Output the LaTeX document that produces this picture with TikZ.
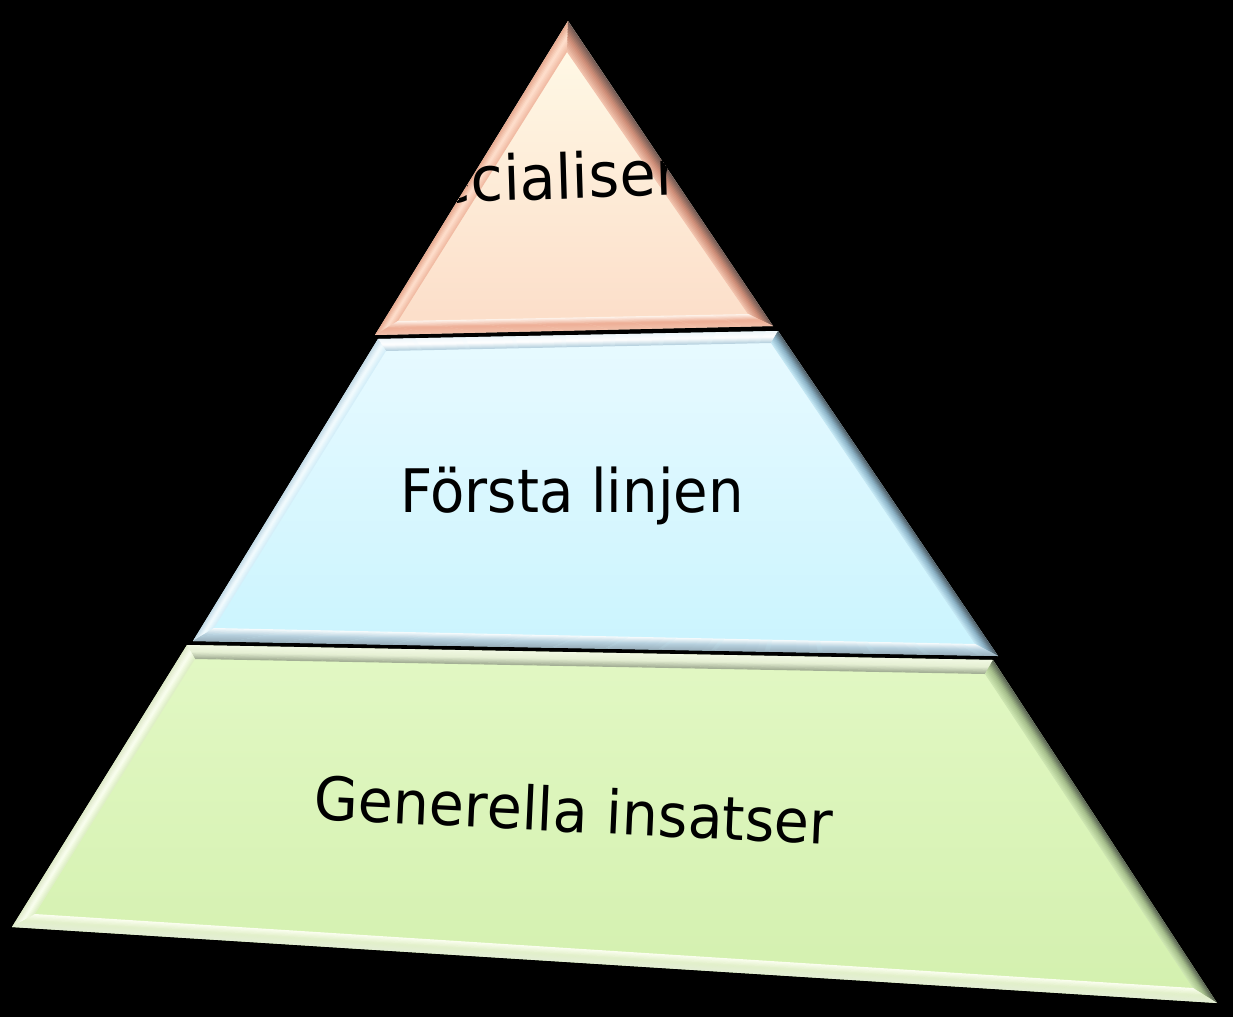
\documentclass[tikz,border=0pt]{standalone}
\usepackage{fontspec}
\setmainfont{DejaVu Sans}
\usetikzlibrary{calc}
\definecolor{peachTop}{HTML}{FFFBE8}
\definecolor{peachBot}{HTML}{FCDDC8}
\definecolor{blueTop}{HTML}{E8FAFF}
\definecolor{blueBot}{HTML}{CAF4FE}
\definecolor{greenTop}{HTML}{E2F8C4}
\definecolor{greenBot}{HTML}{D3F0AE}
% bevel colours
\definecolor{gTo}{HTML}{F2F9E4}\definecolor{gTm}{HTML}{E6F0D4}\definecolor{gTi}{HTML}{9EAA90}
\definecolor{gLo}{HTML}{DDE8C8}\definecolor{gLm}{HTML}{FAFFF0}\definecolor{gLi}{HTML}{DCEEC2}
\definecolor{gRo}{HTML}{565F50}\definecolor{gRm}{HTML}{A6BF8C}\definecolor{gRi}{HTML}{CFE8B2}
\definecolor{gBo}{HTML}{E4EED6}\definecolor{gBm}{HTML}{E2F0CA}\definecolor{gBi}{HTML}{FCFFF2}
\definecolor{bTo}{HTML}{EEF6FA}\definecolor{bTm}{HTML}{FFFFFF}\definecolor{bTi}{HTML}{B4D0DE}
\definecolor{bLo}{HTML}{C2DAE6}\definecolor{bLm}{HTML}{F4FCFF}\definecolor{bLi}{HTML}{D2EEF8}
\definecolor{bRo}{HTML}{4C5A62}\definecolor{bRm}{HTML}{8DB4C8}\definecolor{bRi}{HTML}{C6EAF6}
\definecolor{bBo}{HTML}{9AB0BC}\definecolor{bBm}{HTML}{B6D0DE}\definecolor{bBi}{HTML}{FAFEFF}
\definecolor{pLo}{HTML}{E6A68C}\definecolor{pLm}{HTML}{FFE0CE}\definecolor{pLi}{HTML}{F0B8A0}
\definecolor{pRo}{HTML}{6C5852}\definecolor{pRm}{HTML}{CF8E78}\definecolor{pRi}{HTML}{F4C6B0}
\definecolor{pBo}{HTML}{F2C0AA}\definecolor{pBm}{HTML}{EEAE96}\definecolor{pBi}{HTML}{FFF8F0}
% one bevel face: #1 P, #2 Q (outer edge), #3 Qi, #4 Pi (inner edge), #5 outer, #6 mid, #7 inner colour
\newcommand{\bvface}[7]{%
  \foreach \k in {0,...,11}{%
    \pgfmathsetmacro\ta{\k/12}%
    \pgfmathsetmacro\tb{min(1,(\k+1.4)/12)}%
    \pgfmathtruncatemacro\pa{(2*\k+1)*100/12}%
    \ifnum\pa<100
      \colorlet{bvtmp}{#6!\pa!#5}%
    \else
      \pgfmathtruncatemacro\pb{\pa-100}%
      \colorlet{bvtmp}{#7!\pb!#6}%
    \fi
    \fill[bvtmp] ($(#1)!\ta!(#4)$) -- ($(#2)!\ta!(#3)$) -- ($(#2)!\tb!(#3)$) -- ($(#1)!\tb!(#4)$) -- cycle;
  }}
\begin{document}
\begin{tikzpicture}[x=1pt,y=-1pt,
  lbl/.style={font=\fontsize{60}{70}\selectfont, text=black, inner sep=0pt, xscale=0.935}]
\useasboundingbox (0,0) rectangle (1233,1017);
\fill[black] (0,0) rectangle (1233,1017);

% ---------- coordinates ----------
\coordinate (tA) at (568,21);   \coordinate (tAi) at (567,52);
\coordinate (tB) at (375,335);  \coordinate (tBi) at (398,321);
\coordinate (tC) at (773,326);  \coordinate (tCi) at (748,314);

\coordinate (mD) at (378,339);  \coordinate (mDi) at (386,351);
\coordinate (mE) at (778,331);  \coordinate (mEi) at (771,343);
\coordinate (mF) at (998,656);  \coordinate (mFi) at (975,644);
\coordinate (mG) at (193,641);  \coordinate (mGi) at (214,628);

\coordinate (bH) at (187,645);  \coordinate (bHi) at (195,659);
\coordinate (bI) at (993,660);  \coordinate (bIi) at (985,674);
\coordinate (bJ) at (1217,1003);\coordinate (bJi) at (1193,988);
\coordinate (bK) at (12,927);   \coordinate (bKi) at (35,914);

% ---------- bottom (green) ----------
\shade[top color=greenTop, bottom color=greenBot] (bH) -- (bI) -- (bJ) -- (bK) -- cycle;
\bvface{bH}{bI}{bIi}{bHi}{gTo}{gTm}{gTi}
\bvface{bK}{bH}{bHi}{bKi}{gLo}{gLm}{gLi}
\bvface{bI}{bJ}{bJi}{bIi}{gRo}{gRm}{gRi}
\bvface{bJ}{bK}{bKi}{bJi}{gBo}{gBm}{gBi}

% ---------- middle (blue) ----------
\shade[top color=blueTop, bottom color=blueBot] (mD) -- (mE) -- (mF) -- (mG) -- cycle;
\bvface{mD}{mE}{mEi}{mDi}{bTo}{bTm}{bTi}
\bvface{mG}{mD}{mDi}{mGi}{bLo}{bLm}{bLi}
\bvface{mE}{mF}{mFi}{mEi}{bRo}{bRm}{bRi}
\bvface{mF}{mG}{mGi}{mFi}{bBo}{bBm}{bBi}

% ---------- top (peach) ----------
\shade[top color=peachTop, bottom color=peachBot] (tA) -- (tB) -- (tC) -- cycle;
\bvface{tB}{tA}{tAi}{tBi}{pLo}{pLm}{pLi}
\bvface{tA}{tC}{tCi}{tAi}{pRo}{pRm}{pRi}
\bvface{tC}{tB}{tBi}{tCi}{pBo}{pBm}{pBi}

% ---------- labels ----------
\begin{scope}
  \clip (tA) -- (tB) -- (tC) -- cycle;
  \node[lbl, font=\fontsize{62}{72}\selectfont, xscale=1.016, anchor=base, rotate=1.8] (spec) at (558,199) {ecialiser};
\end{scope}
\node[lbl, anchor=base] (forsta) at (572,512) {Första linjen};
\node[lbl, xscale=1.015, anchor=base, rotate=-2.7] (gen) at (573,832) {Generella insatser};
\end{tikzpicture}
\end{document}
